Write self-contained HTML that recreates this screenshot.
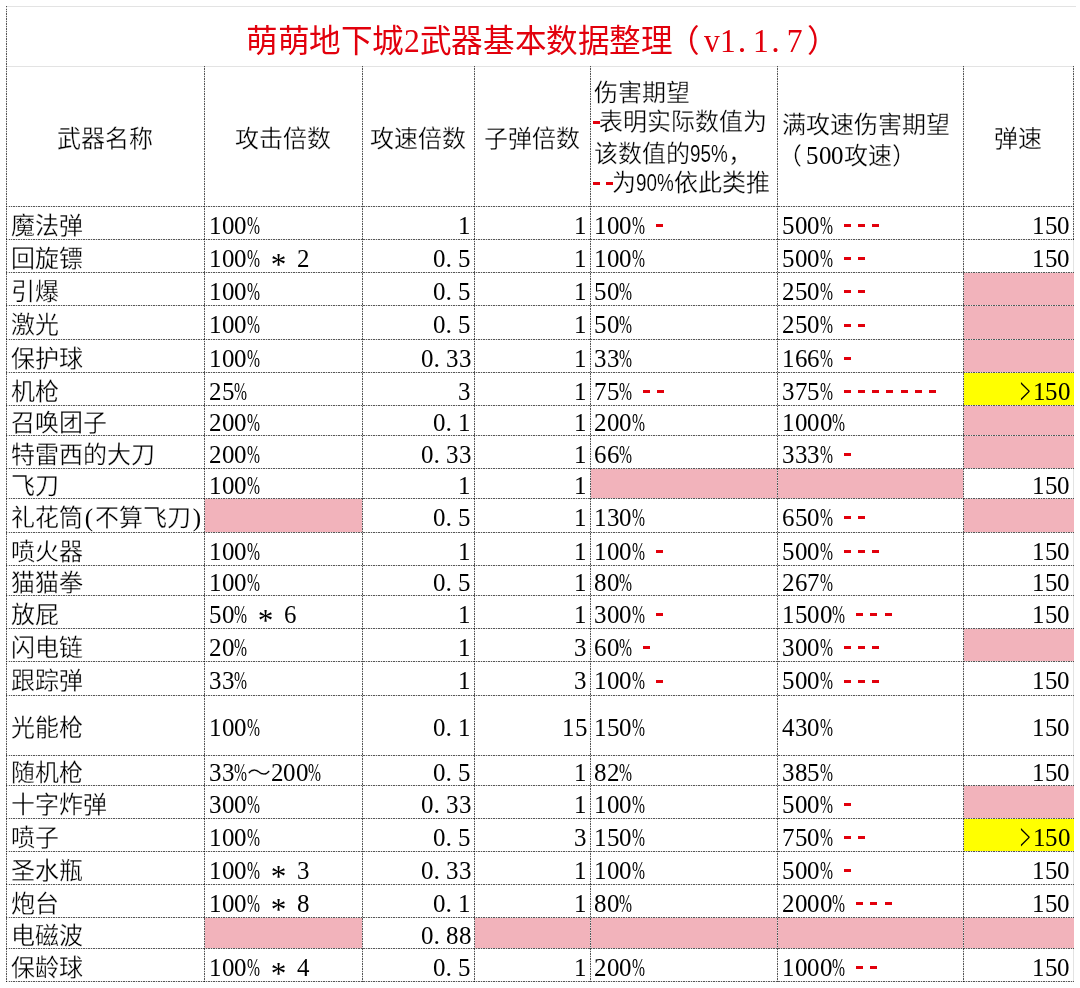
<!DOCTYPE html>
<html lang="zh-CN"><head><meta charset="utf-8"><title>sheet</title><style>
html,body{margin:0;padding:0;background:#fff;}
body{width:1080px;height:988px;overflow:hidden;position:relative;font-family:"Liberation Serif",serif;color:#000;}
.fl,.lg,.dh,.dv,.t,.title,.ds{position:absolute;}
.lg{background:#e3e3e3;}
.dh{height:1px;background:repeating-linear-gradient(to right,rgba(0,0,0,0.66) 0,rgba(0,0,0,0.66) 1.25px,rgba(0,0,0,0.14) 1.25px,rgba(0,0,0,0.14) 2.5px);}
.dv{width:1px;background:repeating-linear-gradient(to bottom,rgba(0,0,0,0.66) 0,rgba(0,0,0,0.66) 1.25px,rgba(0,0,0,0.14) 1.25px,rgba(0,0,0,0.14) 2.5px);}
.t{font-size:24px;line-height:30px;white-space:nowrap;will-change:transform;}
i{font-style:normal;display:inline-block;}
b{font-weight:normal;display:inline-block;position:relative;}
.t i.h{width:12.5px;font-size:26px;}
.t i.f{width:24px;-webkit-text-stroke:0.3px #fff;}
.t i.dg{transform:scaleX(0.96);transform-origin:0 0;}
.t i.pc{transform:scaleX(0.6);transform-origin:0 0;}
.t i.ast{position:relative;top:6px;transform:scale(1.2);transform-origin:50% 40%;}
.t i.gt{transform:scale(0.72,1.45);transform-origin:0 62%;position:relative;top:1.5px;}
.t i.par{text-align:center;font-size:25px;width:12px;}
.t b.lp{left:-4px;}
.t b.rp{left:0px;}
.title{font-size:31.6px;line-height:38px;white-space:nowrap;color:#e2000c;will-change:transform;}
.title i.h{width:15.8px;font-size:34px;}
.title i.f{width:31.6px;}
.title i.dg{transform:scaleX(0.93);transform-origin:0 0;}
.title i.dot{}
.title b.lp{left:0px;}
.title b.rp{left:0px;}
.ds{width:7px;height:3px;background:#e2000c;}
.sn{display:inline-block;width:37.5px;font-family:"Liberation Sans",sans-serif;font-size:23px;position:relative;top:0px;}
.sn b{transform:scaleX(0.82);transform-origin:0 0;-webkit-text-stroke:0.15px #fff;}
</style></head><body>
<div class="lg" style="left:6px;top:6px;width:1070px;height:1px"></div>
<div class="lg" style="left:6px;top:66px;width:1068px;height:1px"></div>
<div class="lg" style="left:1073px;top:239px;width:1px;height:742px"></div>
<div class="fl" style="left:964px;top:273px;width:110px;height:32px;background:#f2b3bb"></div>
<div class="fl" style="left:964px;top:306px;width:110px;height:33px;background:#f2b3bb"></div>
<div class="fl" style="left:964px;top:340px;width:110px;height:32px;background:#f2b3bb"></div>
<div class="fl" style="left:964px;top:373px;width:110px;height:32px;background:#ffff00"></div>
<div class="fl" style="left:964px;top:406px;width:110px;height:29px;background:#f2b3bb"></div>
<div class="fl" style="left:964px;top:436px;width:110px;height:32px;background:#f2b3bb"></div>
<div class="fl" style="left:591px;top:469px;width:186px;height:29px;background:#f2b3bb"></div>
<div class="fl" style="left:778px;top:469px;width:185px;height:29px;background:#f2b3bb"></div>
<div class="fl" style="left:205px;top:499px;width:157px;height:33px;background:#f2b3bb"></div>
<div class="fl" style="left:964px;top:499px;width:110px;height:33px;background:#f2b3bb"></div>
<div class="fl" style="left:964px;top:629px;width:110px;height:32px;background:#f2b3bb"></div>
<div class="fl" style="left:964px;top:786px;width:110px;height:32px;background:#f2b3bb"></div>
<div class="fl" style="left:964px;top:819px;width:110px;height:32px;background:#ffff00"></div>
<div class="fl" style="left:205px;top:918px;width:157px;height:30px;background:#f2b3bb"></div>
<div class="fl" style="left:475px;top:918px;width:115px;height:30px;background:#f2b3bb"></div>
<div class="fl" style="left:591px;top:918px;width:186px;height:30px;background:#f2b3bb"></div>
<div class="fl" style="left:778px;top:918px;width:185px;height:30px;background:#f2b3bb"></div>
<div class="fl" style="left:964px;top:918px;width:110px;height:30px;background:#f2b3bb"></div>
<div class="dh" style="left:6px;top:206px;width:1068px"></div>
<div class="dh" style="left:6px;top:239px;width:1068px"></div>
<div class="dh" style="left:6px;top:272px;width:1068px"></div>
<div class="dh" style="left:6px;top:305px;width:1068px"></div>
<div class="dh" style="left:6px;top:339px;width:1068px"></div>
<div class="dh" style="left:6px;top:372px;width:1068px"></div>
<div class="dh" style="left:6px;top:405px;width:1068px"></div>
<div class="dh" style="left:6px;top:435px;width:1068px"></div>
<div class="dh" style="left:6px;top:468px;width:1068px"></div>
<div class="dh" style="left:6px;top:498px;width:1068px"></div>
<div class="dh" style="left:6px;top:532px;width:1068px"></div>
<div class="dh" style="left:6px;top:565px;width:1068px"></div>
<div class="dh" style="left:6px;top:595px;width:1068px"></div>
<div class="dh" style="left:6px;top:628px;width:1068px"></div>
<div class="dh" style="left:6px;top:661px;width:1068px"></div>
<div class="dh" style="left:6px;top:695px;width:1068px"></div>
<div class="dh" style="left:6px;top:755px;width:1068px"></div>
<div class="dh" style="left:6px;top:785px;width:1068px"></div>
<div class="dh" style="left:6px;top:818px;width:1068px"></div>
<div class="dh" style="left:6px;top:851px;width:1068px"></div>
<div class="dh" style="left:6px;top:884px;width:1068px"></div>
<div class="dh" style="left:6px;top:917px;width:1068px"></div>
<div class="dh" style="left:6px;top:948px;width:1068px"></div>
<div class="dh" style="left:6px;top:981px;width:1068px"></div>
<div class="dv" style="left:6px;top:6px;height:976px"></div>
<div class="dv" style="left:204px;top:66px;height:916px"></div>
<div class="dv" style="left:362px;top:66px;height:916px"></div>
<div class="dv" style="left:474px;top:66px;height:916px"></div>
<div class="dv" style="left:590px;top:66px;height:916px"></div>
<div class="dv" style="left:777px;top:66px;height:916px"></div>
<div class="dv" style="left:963px;top:66px;height:916px"></div>
<div class="dv" style="left:1073px;top:66px;height:174px"></div>
<div class="title" style="left:246px;top:22px"><i class="f">萌</i><i class="f">萌</i><i class="f">地</i><i class="f">下</i><i class="f">城</i><i class="h dg">2</i><i class="f">武</i><i class="f">器</i><i class="f">基</i><i class="f">本</i><i class="f">数</i><i class="f">据</i><i class="f">整</i><i class="f">理</i><i class="f"><b style="left:-5px">（</b></i><i class="h dg">v</i><i class="h dg">1</i><i class="h dot"><b style="left:2px">.</b></i><i class="h dg"><b style="left:1px">1</b></i><i class="h dot"><b style="left:4px">.</b></i><i class="h dg"><b style="left:4px">7</b></i><i class="f"><b style="left:8px">）</b></i></div>
<div class="t " style="left:57.0px;top:124.2px"><i class="f">武</i><i class="f">器</i><i class="f">名</i><i class="f">称</i></div>
<div class="t " style="left:235.0px;top:124.2px"><i class="f">攻</i><i class="f">击</i><i class="f">倍</i><i class="f">数</i></div>
<div class="t " style="left:370.0px;top:124.2px"><i class="f">攻</i><i class="f">速</i><i class="f">倍</i><i class="f">数</i></div>
<div class="t " style="left:484.0px;top:124.2px"><i class="f">子</i><i class="f">弹</i><i class="f">倍</i><i class="f">数</i></div>
<div class="t " style="left:994.0px;top:124.2px"><i class="f">弹</i><i class="f">速</i></div>
<div class="t " style="left:782.0px;top:110.4px"><i class="f">满</i><i class="f">攻</i><i class="f">速</i><i class="f">伤</i><i class="f">害</i><i class="f">期</i><i class="f">望</i></div>
<div class="t " style="left:782.0px;top:140.9px"><i class="f"><b class="lp">（</b></i><i class="h dg">5</i><i class="h dg">0</i><i class="h dg">0</i><i class="f">攻</i><i class="f">速</i><i class="f"><b class="rp">）</b></i></div>
<div class="t " style="left:594.0px;top:78.4px"><i class="f">伤</i><i class="f">害</i><i class="f">期</i><i class="f">望</i></div>
<div class="t " style="left:599.0px;top:107.4px"><i class="f">表</i><i class="f">明</i><i class="f">实</i><i class="f">际</i><i class="f">数</i><i class="f">值</i><i class="f">为</i></div>
<div class="t " style="left:594.0px;top:139.4px"><i class="f">该</i><i class="f">数</i><i class="f">值</i><i class="f">的</i><span class="sn"><b>95%</b></span><i class="f">，</i></div>
<div class="t " style="left:612.0px;top:167.9px"><i class="f">为</i><span class="sn"><b>90%</b></span><i class="f">依</i><i class="f">此</i><i class="f">类</i><i class="f">推</i></div>
<div class="ds" style="left:593px;top:121px"></div>
<div class="ds" style="left:593px;top:182px"></div>
<div class="ds" style="left:606px;top:182px"></div>
<div class="t " style="left:11.0px;top:210.7px"><i class="f">魔</i><i class="f">法</i><i class="f">弹</i></div>
<div class="t " style="left:209.0px;top:210.7px"><i class="h dg">1</i><i class="h dg">0</i><i class="h dg">0</i><i class="h pc">%</i></div>
<div class="t " style="left:458.0px;top:210.7px"><i class="h dg">1</i></div>
<div class="t " style="left:574.0px;top:210.7px"><i class="h dg">1</i></div>
<div class="t " style="left:593.5px;top:210.7px"><i class="h dg">1</i><i class="h dg">0</i><i class="h dg">0</i><i class="h pc">%</i></div>
<div class="ds" style="left:656px;top:224px"></div>
<div class="t " style="left:781.5px;top:210.7px"><i class="h dg">5</i><i class="h dg">0</i><i class="h dg">0</i><i class="h pc">%</i></div>
<div class="ds" style="left:844px;top:224px"></div>
<div class="ds" style="left:858px;top:224px"></div>
<div class="ds" style="left:872px;top:224px"></div>
<div class="t " style="left:1032.0px;top:210.7px"><i class="h dg">1</i><i class="h dg">5</i><i class="h dg">0</i></div>
<div class="t " style="left:11.0px;top:243.7px"><i class="f">回</i><i class="f">旋</i><i class="f">镖</i></div>
<div class="t " style="left:209.0px;top:243.7px"><i class="h dg">1</i><i class="h dg">0</i><i class="h dg">0</i><i class="h pc">%</i><i class="h"> </i><i class="h ast">*</i><i class="h"> </i><i class="h dg">2</i></div>
<div class="t " style="left:433.0px;top:243.7px"><i class="h dg">0</i><i class="h dot">.</i><i class="h dg">5</i></div>
<div class="t " style="left:574.0px;top:243.7px"><i class="h dg">1</i></div>
<div class="t " style="left:593.5px;top:243.7px"><i class="h dg">1</i><i class="h dg">0</i><i class="h dg">0</i><i class="h pc">%</i></div>
<div class="t " style="left:781.5px;top:243.7px"><i class="h dg">5</i><i class="h dg">0</i><i class="h dg">0</i><i class="h pc">%</i></div>
<div class="ds" style="left:844px;top:257px"></div>
<div class="ds" style="left:858px;top:257px"></div>
<div class="t " style="left:1032.0px;top:243.7px"><i class="h dg">1</i><i class="h dg">5</i><i class="h dg">0</i></div>
<div class="t " style="left:11.0px;top:276.7px"><i class="f">引</i><i class="f">爆</i></div>
<div class="t " style="left:209.0px;top:276.7px"><i class="h dg">1</i><i class="h dg">0</i><i class="h dg">0</i><i class="h pc">%</i></div>
<div class="t " style="left:433.0px;top:276.7px"><i class="h dg">0</i><i class="h dot">.</i><i class="h dg">5</i></div>
<div class="t " style="left:574.0px;top:276.7px"><i class="h dg">1</i></div>
<div class="t " style="left:593.5px;top:276.7px"><i class="h dg">5</i><i class="h dg">0</i><i class="h pc">%</i></div>
<div class="t " style="left:781.5px;top:276.7px"><i class="h dg">2</i><i class="h dg">5</i><i class="h dg">0</i><i class="h pc">%</i></div>
<div class="ds" style="left:844px;top:290px"></div>
<div class="ds" style="left:858px;top:290px"></div>
<div class="t " style="left:11.0px;top:310.2px"><i class="f">激</i><i class="f">光</i></div>
<div class="t " style="left:209.0px;top:310.2px"><i class="h dg">1</i><i class="h dg">0</i><i class="h dg">0</i><i class="h pc">%</i></div>
<div class="t " style="left:433.0px;top:310.2px"><i class="h dg">0</i><i class="h dot">.</i><i class="h dg">5</i></div>
<div class="t " style="left:574.0px;top:310.2px"><i class="h dg">1</i></div>
<div class="t " style="left:593.5px;top:310.2px"><i class="h dg">5</i><i class="h dg">0</i><i class="h pc">%</i></div>
<div class="t " style="left:781.5px;top:310.2px"><i class="h dg">2</i><i class="h dg">5</i><i class="h dg">0</i><i class="h pc">%</i></div>
<div class="ds" style="left:844px;top:324px"></div>
<div class="ds" style="left:858px;top:324px"></div>
<div class="t " style="left:11.0px;top:343.7px"><i class="f">保</i><i class="f">护</i><i class="f">球</i></div>
<div class="t " style="left:209.0px;top:343.7px"><i class="h dg">1</i><i class="h dg">0</i><i class="h dg">0</i><i class="h pc">%</i></div>
<div class="t " style="left:420.5px;top:343.7px"><i class="h dg">0</i><i class="h dot">.</i><i class="h dg">3</i><i class="h dg">3</i></div>
<div class="t " style="left:574.0px;top:343.7px"><i class="h dg">1</i></div>
<div class="t " style="left:593.5px;top:343.7px"><i class="h dg">3</i><i class="h dg">3</i><i class="h pc">%</i></div>
<div class="t " style="left:781.5px;top:343.7px"><i class="h dg">1</i><i class="h dg">6</i><i class="h dg">6</i><i class="h pc">%</i></div>
<div class="ds" style="left:844px;top:357px"></div>
<div class="t " style="left:11.0px;top:376.7px"><i class="f">机</i><i class="f">枪</i></div>
<div class="t " style="left:209.0px;top:376.7px"><i class="h dg">2</i><i class="h dg">5</i><i class="h pc">%</i></div>
<div class="t " style="left:458.0px;top:376.7px"><i class="h dg">3</i></div>
<div class="t " style="left:574.0px;top:376.7px"><i class="h dg">1</i></div>
<div class="t " style="left:593.5px;top:376.7px"><i class="h dg">7</i><i class="h dg">5</i><i class="h pc">%</i></div>
<div class="ds" style="left:643px;top:390px"></div>
<div class="ds" style="left:657px;top:390px"></div>
<div class="t " style="left:781.5px;top:376.7px"><i class="h dg">3</i><i class="h dg">7</i><i class="h dg">5</i><i class="h pc">%</i></div>
<div class="ds" style="left:844px;top:390px"></div>
<div class="ds" style="left:858px;top:390px"></div>
<div class="ds" style="left:872px;top:390px"></div>
<div class="ds" style="left:886px;top:390px"></div>
<div class="ds" style="left:901px;top:390px"></div>
<div class="ds" style="left:915px;top:390px"></div>
<div class="ds" style="left:929px;top:390px"></div>
<div class="t yl" style="left:1019.5px;top:376.7px"><i class="h gt">&gt;</i><i class="h dg">1</i><i class="h dg">5</i><i class="h dg">0</i></div>
<div class="t " style="left:11.0px;top:408.2px"><i class="f">召</i><i class="f">唤</i><i class="f">团</i><i class="f">子</i></div>
<div class="t " style="left:209.0px;top:408.2px"><i class="h dg">2</i><i class="h dg">0</i><i class="h dg">0</i><i class="h pc">%</i></div>
<div class="t " style="left:433.0px;top:408.2px"><i class="h dg">0</i><i class="h dot">.</i><i class="h dg">1</i></div>
<div class="t " style="left:574.0px;top:408.2px"><i class="h dg">1</i></div>
<div class="t " style="left:593.5px;top:408.2px"><i class="h dg">2</i><i class="h dg">0</i><i class="h dg">0</i><i class="h pc">%</i></div>
<div class="t " style="left:781.5px;top:408.2px"><i class="h dg">1</i><i class="h dg">0</i><i class="h dg">0</i><i class="h dg">0</i><i class="h pc">%</i></div>
<div class="t " style="left:11.0px;top:439.7px"><i class="f">特</i><i class="f">雷</i><i class="f">西</i><i class="f">的</i><i class="f">大</i><i class="f">刀</i></div>
<div class="t " style="left:209.0px;top:439.7px"><i class="h dg">2</i><i class="h dg">0</i><i class="h dg">0</i><i class="h pc">%</i></div>
<div class="t " style="left:420.5px;top:439.7px"><i class="h dg">0</i><i class="h dot">.</i><i class="h dg">3</i><i class="h dg">3</i></div>
<div class="t " style="left:574.0px;top:439.7px"><i class="h dg">1</i></div>
<div class="t " style="left:593.5px;top:439.7px"><i class="h dg">6</i><i class="h dg">6</i><i class="h pc">%</i></div>
<div class="t " style="left:781.5px;top:439.7px"><i class="h dg">3</i><i class="h dg">3</i><i class="h dg">3</i><i class="h pc">%</i></div>
<div class="ds" style="left:844px;top:453px"></div>
<div class="t " style="left:11.0px;top:471.2px"><i class="f">飞</i><i class="f">刀</i></div>
<div class="t " style="left:209.0px;top:471.2px"><i class="h dg">1</i><i class="h dg">0</i><i class="h dg">0</i><i class="h pc">%</i></div>
<div class="t " style="left:458.0px;top:471.2px"><i class="h dg">1</i></div>
<div class="t " style="left:574.0px;top:471.2px"><i class="h dg">1</i></div>
<div class="t " style="left:1032.0px;top:471.2px"><i class="h dg">1</i><i class="h dg">5</i><i class="h dg">0</i></div>
<div class="t " style="left:11.0px;top:503.2px"><i class="f">礼</i><i class="f">花</i><i class="f">筒</i><i class="h par">(</i><i class="f">不</i><i class="f">算</i><i class="f">飞</i><i class="f">刀</i><i class="h par">)</i></div>
<div class="t " style="left:433.0px;top:503.2px"><i class="h dg">0</i><i class="h dot">.</i><i class="h dg">5</i></div>
<div class="t " style="left:574.0px;top:503.2px"><i class="h dg">1</i></div>
<div class="t " style="left:593.5px;top:503.2px"><i class="h dg">1</i><i class="h dg">3</i><i class="h dg">0</i><i class="h pc">%</i></div>
<div class="t " style="left:781.5px;top:503.2px"><i class="h dg">6</i><i class="h dg">5</i><i class="h dg">0</i><i class="h pc">%</i></div>
<div class="ds" style="left:844px;top:516px"></div>
<div class="ds" style="left:858px;top:516px"></div>
<div class="t " style="left:11.0px;top:536.7px"><i class="f">喷</i><i class="f">火</i><i class="f">器</i></div>
<div class="t " style="left:209.0px;top:536.7px"><i class="h dg">1</i><i class="h dg">0</i><i class="h dg">0</i><i class="h pc">%</i></div>
<div class="t " style="left:458.0px;top:536.7px"><i class="h dg">1</i></div>
<div class="t " style="left:574.0px;top:536.7px"><i class="h dg">1</i></div>
<div class="t " style="left:593.5px;top:536.7px"><i class="h dg">1</i><i class="h dg">0</i><i class="h dg">0</i><i class="h pc">%</i></div>
<div class="ds" style="left:656px;top:550px"></div>
<div class="t " style="left:781.5px;top:536.7px"><i class="h dg">5</i><i class="h dg">0</i><i class="h dg">0</i><i class="h pc">%</i></div>
<div class="ds" style="left:844px;top:550px"></div>
<div class="ds" style="left:858px;top:550px"></div>
<div class="ds" style="left:872px;top:550px"></div>
<div class="t " style="left:1032.0px;top:536.7px"><i class="h dg">1</i><i class="h dg">5</i><i class="h dg">0</i></div>
<div class="t " style="left:11.0px;top:568.2px"><i class="f">猫</i><i class="f">猫</i><i class="f">拳</i></div>
<div class="t " style="left:209.0px;top:568.2px"><i class="h dg">1</i><i class="h dg">0</i><i class="h dg">0</i><i class="h pc">%</i></div>
<div class="t " style="left:433.0px;top:568.2px"><i class="h dg">0</i><i class="h dot">.</i><i class="h dg">5</i></div>
<div class="t " style="left:574.0px;top:568.2px"><i class="h dg">1</i></div>
<div class="t " style="left:593.5px;top:568.2px"><i class="h dg">8</i><i class="h dg">0</i><i class="h pc">%</i></div>
<div class="t " style="left:781.5px;top:568.2px"><i class="h dg">2</i><i class="h dg">6</i><i class="h dg">7</i><i class="h pc">%</i></div>
<div class="t " style="left:1032.0px;top:568.2px"><i class="h dg">1</i><i class="h dg">5</i><i class="h dg">0</i></div>
<div class="t " style="left:11.0px;top:599.7px"><i class="f">放</i><i class="f">屁</i></div>
<div class="t " style="left:209.0px;top:599.7px"><i class="h dg">5</i><i class="h dg">0</i><i class="h pc">%</i><i class="h"> </i><i class="h ast">*</i><i class="h"> </i><i class="h dg">6</i></div>
<div class="t " style="left:458.0px;top:599.7px"><i class="h dg">1</i></div>
<div class="t " style="left:574.0px;top:599.7px"><i class="h dg">1</i></div>
<div class="t " style="left:593.5px;top:599.7px"><i class="h dg">3</i><i class="h dg">0</i><i class="h dg">0</i><i class="h pc">%</i></div>
<div class="ds" style="left:656px;top:613px"></div>
<div class="t " style="left:781.5px;top:599.7px"><i class="h dg">1</i><i class="h dg">5</i><i class="h dg">0</i><i class="h dg">0</i><i class="h pc">%</i></div>
<div class="ds" style="left:856px;top:613px"></div>
<div class="ds" style="left:870px;top:613px"></div>
<div class="ds" style="left:885px;top:613px"></div>
<div class="t " style="left:1032.0px;top:599.7px"><i class="h dg">1</i><i class="h dg">5</i><i class="h dg">0</i></div>
<div class="t " style="left:11.0px;top:632.7px"><i class="f">闪</i><i class="f">电</i><i class="f">链</i></div>
<div class="t " style="left:209.0px;top:632.7px"><i class="h dg">2</i><i class="h dg">0</i><i class="h pc">%</i></div>
<div class="t " style="left:458.0px;top:632.7px"><i class="h dg">1</i></div>
<div class="t " style="left:574.0px;top:632.7px"><i class="h dg">3</i></div>
<div class="t " style="left:593.5px;top:632.7px"><i class="h dg">6</i><i class="h dg">0</i><i class="h pc">%</i></div>
<div class="ds" style="left:643px;top:646px"></div>
<div class="t " style="left:781.5px;top:632.7px"><i class="h dg">3</i><i class="h dg">0</i><i class="h dg">0</i><i class="h pc">%</i></div>
<div class="ds" style="left:844px;top:646px"></div>
<div class="ds" style="left:858px;top:646px"></div>
<div class="ds" style="left:872px;top:646px"></div>
<div class="t " style="left:11.0px;top:666.2px"><i class="f">跟</i><i class="f">踪</i><i class="f">弹</i></div>
<div class="t " style="left:209.0px;top:666.2px"><i class="h dg">3</i><i class="h dg">3</i><i class="h pc">%</i></div>
<div class="t " style="left:458.0px;top:666.2px"><i class="h dg">1</i></div>
<div class="t " style="left:574.0px;top:666.2px"><i class="h dg">3</i></div>
<div class="t " style="left:593.5px;top:666.2px"><i class="h dg">1</i><i class="h dg">0</i><i class="h dg">0</i><i class="h pc">%</i></div>
<div class="ds" style="left:656px;top:680px"></div>
<div class="t " style="left:781.5px;top:666.2px"><i class="h dg">5</i><i class="h dg">0</i><i class="h dg">0</i><i class="h pc">%</i></div>
<div class="ds" style="left:844px;top:680px"></div>
<div class="ds" style="left:858px;top:680px"></div>
<div class="ds" style="left:872px;top:680px"></div>
<div class="t " style="left:1032.0px;top:666.2px"><i class="h dg">1</i><i class="h dg">5</i><i class="h dg">0</i></div>
<div class="t " style="left:11.0px;top:713.2px"><i class="f">光</i><i class="f">能</i><i class="f">枪</i></div>
<div class="t " style="left:209.0px;top:713.2px"><i class="h dg">1</i><i class="h dg">0</i><i class="h dg">0</i><i class="h pc">%</i></div>
<div class="t " style="left:433.0px;top:713.2px"><i class="h dg">0</i><i class="h dot">.</i><i class="h dg">1</i></div>
<div class="t " style="left:561.5px;top:713.2px"><i class="h dg">1</i><i class="h dg">5</i></div>
<div class="t " style="left:593.5px;top:713.2px"><i class="h dg">1</i><i class="h dg">5</i><i class="h dg">0</i><i class="h pc">%</i></div>
<div class="t " style="left:781.5px;top:713.2px"><i class="h dg">4</i><i class="h dg">3</i><i class="h dg">0</i><i class="h pc">%</i></div>
<div class="t " style="left:1032.0px;top:713.2px"><i class="h dg">1</i><i class="h dg">5</i><i class="h dg">0</i></div>
<div class="t " style="left:11.0px;top:758.2px"><i class="f">随</i><i class="f">机</i><i class="f">枪</i></div>
<div class="t " style="left:209.0px;top:758.2px"><i class="h dg">3</i><i class="h dg">3</i><i class="h pc">%</i><i class="f">～</i><i class="h dg">2</i><i class="h dg">0</i><i class="h dg">0</i><i class="h pc">%</i></div>
<div class="t " style="left:433.0px;top:758.2px"><i class="h dg">0</i><i class="h dot">.</i><i class="h dg">5</i></div>
<div class="t " style="left:574.0px;top:758.2px"><i class="h dg">1</i></div>
<div class="t " style="left:593.5px;top:758.2px"><i class="h dg">8</i><i class="h dg">2</i><i class="h pc">%</i></div>
<div class="t " style="left:781.5px;top:758.2px"><i class="h dg">3</i><i class="h dg">8</i><i class="h dg">5</i><i class="h pc">%</i></div>
<div class="t " style="left:1032.0px;top:758.2px"><i class="h dg">1</i><i class="h dg">5</i><i class="h dg">0</i></div>
<div class="t " style="left:11.0px;top:789.7px"><i class="f">十</i><i class="f">字</i><i class="f">炸</i><i class="f">弹</i></div>
<div class="t " style="left:209.0px;top:789.7px"><i class="h dg">3</i><i class="h dg">0</i><i class="h dg">0</i><i class="h pc">%</i></div>
<div class="t " style="left:420.5px;top:789.7px"><i class="h dg">0</i><i class="h dot">.</i><i class="h dg">3</i><i class="h dg">3</i></div>
<div class="t " style="left:574.0px;top:789.7px"><i class="h dg">1</i></div>
<div class="t " style="left:593.5px;top:789.7px"><i class="h dg">1</i><i class="h dg">0</i><i class="h dg">0</i><i class="h pc">%</i></div>
<div class="t " style="left:781.5px;top:789.7px"><i class="h dg">5</i><i class="h dg">0</i><i class="h dg">0</i><i class="h pc">%</i></div>
<div class="ds" style="left:844px;top:803px"></div>
<div class="t " style="left:11.0px;top:822.7px"><i class="f">喷</i><i class="f">子</i></div>
<div class="t " style="left:209.0px;top:822.7px"><i class="h dg">1</i><i class="h dg">0</i><i class="h dg">0</i><i class="h pc">%</i></div>
<div class="t " style="left:433.0px;top:822.7px"><i class="h dg">0</i><i class="h dot">.</i><i class="h dg">5</i></div>
<div class="t " style="left:574.0px;top:822.7px"><i class="h dg">3</i></div>
<div class="t " style="left:593.5px;top:822.7px"><i class="h dg">1</i><i class="h dg">5</i><i class="h dg">0</i><i class="h pc">%</i></div>
<div class="t " style="left:781.5px;top:822.7px"><i class="h dg">7</i><i class="h dg">5</i><i class="h dg">0</i><i class="h pc">%</i></div>
<div class="ds" style="left:844px;top:836px"></div>
<div class="ds" style="left:858px;top:836px"></div>
<div class="t yl" style="left:1019.5px;top:822.7px"><i class="h gt">&gt;</i><i class="h dg">1</i><i class="h dg">5</i><i class="h dg">0</i></div>
<div class="t " style="left:11.0px;top:855.7px"><i class="f">圣</i><i class="f">水</i><i class="f">瓶</i></div>
<div class="t " style="left:209.0px;top:855.7px"><i class="h dg">1</i><i class="h dg">0</i><i class="h dg">0</i><i class="h pc">%</i><i class="h"> </i><i class="h ast">*</i><i class="h"> </i><i class="h dg">3</i></div>
<div class="t " style="left:420.5px;top:855.7px"><i class="h dg">0</i><i class="h dot">.</i><i class="h dg">3</i><i class="h dg">3</i></div>
<div class="t " style="left:574.0px;top:855.7px"><i class="h dg">1</i></div>
<div class="t " style="left:593.5px;top:855.7px"><i class="h dg">1</i><i class="h dg">0</i><i class="h dg">0</i><i class="h pc">%</i></div>
<div class="t " style="left:781.5px;top:855.7px"><i class="h dg">5</i><i class="h dg">0</i><i class="h dg">0</i><i class="h pc">%</i></div>
<div class="ds" style="left:844px;top:869px"></div>
<div class="t " style="left:1032.0px;top:855.7px"><i class="h dg">1</i><i class="h dg">5</i><i class="h dg">0</i></div>
<div class="t " style="left:11.0px;top:888.7px"><i class="f">炮</i><i class="f">台</i></div>
<div class="t " style="left:209.0px;top:888.7px"><i class="h dg">1</i><i class="h dg">0</i><i class="h dg">0</i><i class="h pc">%</i><i class="h"> </i><i class="h ast">*</i><i class="h"> </i><i class="h dg">8</i></div>
<div class="t " style="left:433.0px;top:888.7px"><i class="h dg">0</i><i class="h dot">.</i><i class="h dg">1</i></div>
<div class="t " style="left:574.0px;top:888.7px"><i class="h dg">1</i></div>
<div class="t " style="left:593.5px;top:888.7px"><i class="h dg">8</i><i class="h dg">0</i><i class="h pc">%</i></div>
<div class="t " style="left:781.5px;top:888.7px"><i class="h dg">2</i><i class="h dg">0</i><i class="h dg">0</i><i class="h dg">0</i><i class="h pc">%</i></div>
<div class="ds" style="left:856px;top:902px"></div>
<div class="ds" style="left:870px;top:902px"></div>
<div class="ds" style="left:885px;top:902px"></div>
<div class="t " style="left:1032.0px;top:888.7px"><i class="h dg">1</i><i class="h dg">5</i><i class="h dg">0</i></div>
<div class="t " style="left:11.0px;top:920.7px"><i class="f">电</i><i class="f">磁</i><i class="f">波</i></div>
<div class="t " style="left:420.5px;top:920.7px"><i class="h dg">0</i><i class="h dot">.</i><i class="h dg">8</i><i class="h dg">8</i></div>
<div class="t " style="left:11.0px;top:952.7px"><i class="f">保</i><i class="f">龄</i><i class="f">球</i></div>
<div class="t " style="left:209.0px;top:952.7px"><i class="h dg">1</i><i class="h dg">0</i><i class="h dg">0</i><i class="h pc">%</i><i class="h"> </i><i class="h ast">*</i><i class="h"> </i><i class="h dg">4</i></div>
<div class="t " style="left:433.0px;top:952.7px"><i class="h dg">0</i><i class="h dot">.</i><i class="h dg">5</i></div>
<div class="t " style="left:574.0px;top:952.7px"><i class="h dg">1</i></div>
<div class="t " style="left:593.5px;top:952.7px"><i class="h dg">2</i><i class="h dg">0</i><i class="h dg">0</i><i class="h pc">%</i></div>
<div class="t " style="left:781.5px;top:952.7px"><i class="h dg">1</i><i class="h dg">0</i><i class="h dg">0</i><i class="h dg">0</i><i class="h pc">%</i></div>
<div class="ds" style="left:856px;top:966px"></div>
<div class="ds" style="left:870px;top:966px"></div>
<div class="t " style="left:1032.0px;top:952.7px"><i class="h dg">1</i><i class="h dg">5</i><i class="h dg">0</i></div>
</body></html>
